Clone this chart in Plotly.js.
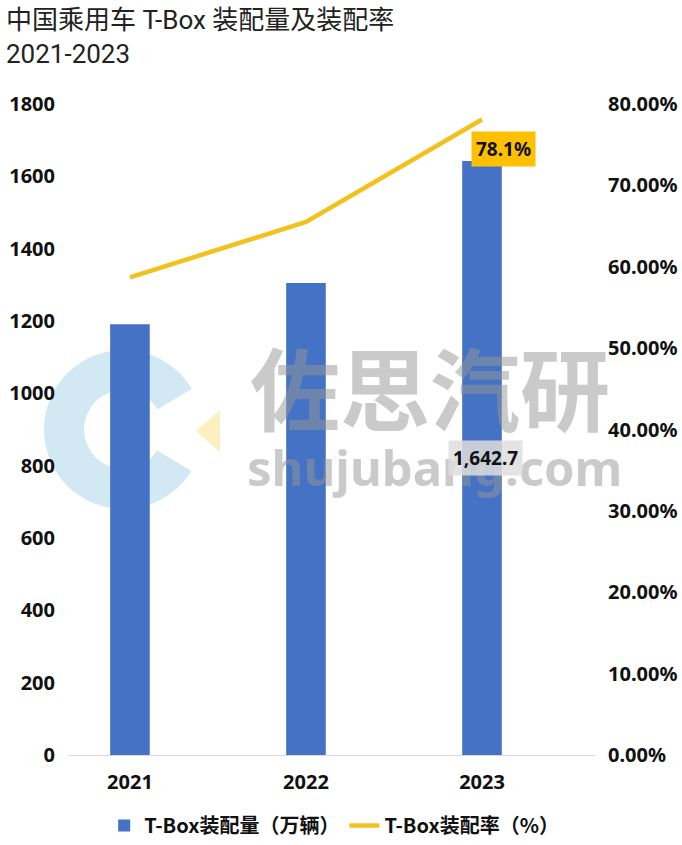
<!DOCTYPE html>
<html>
<head>
<meta charset="utf-8">
<script src="https://cdn.plot.ly/plotly-3.0.1.min.js"></script>
<style>
  html, body { margin: 0; padding: 0; background: #fff; }
  #chart { width: 682px; height: 845px; }
</style>
</head>
<body>
<div id="chart"></div>
<script>
// ---- data ----
const years = ['2021', '2022', '2023'];
const volume = [1191, 1305, 1642.7];      // T-Box装配量（万辆）
const rate = [58.7, 65.5, 78.1];          // T-Box装配率（%）
const leftTicks = [0, 200, 400, 600, 800, 1000, 1200, 1400, 1600, 1800];
const rightTicks = [0, 10, 20, 30, 40, 50, 60, 70, 80];
const rightTickText = rightTicks.map(v => v.toFixed(2) + '%');

const W = 682, H = 845;
const L = 68, R = 87, T = 104, B = 90;
const pw = W - L - R, ph = H - T - B;
// pixel -> paper helpers for decorative elements only
const px = v => (v - L) / pw;
const py = v => (H - B - v) / ph;

const tickFont = { family: 'Noto Sans, Open Sans, sans-serif', size: 20, color: '#111', weight: 'bold' };
const last = years.length - 1;

const traces = [
  {
    type: 'bar', name: 'T-Box装配量（万辆）', x: years, y: volume,
    marker: { color: '#4472C4' }, width: 0.225
  },
  {
    type: 'scatter', mode: 'lines', name: 'T-Box装配率（%）', x: years, y: rate, yaxis: 'y2',
    line: { color: '#F2C11C', width: 4.5 }
  }
];

const annotations = [
  // title
  {
    xref: 'paper', yref: 'paper', x: px(4), y: py(3), xanchor: 'left', yanchor: 'top', align: 'left',
    text: '中国乘用车 T-Box 装配量及装配率<br>2021-2023', showarrow: false,
    font: { family: 'Roboto, Noto Sans CJK SC, sans-serif', size: 26, color: '#222' }
  },
  // watermark
  {
    xref: 'paper', yref: 'paper', x: px(430), y: py(385), xanchor: 'center', yanchor: 'middle',
    text: '佐思汽研', showarrow: false,
    font: { family: 'Noto Sans CJK SC, sans-serif', size: 90, color: 'rgba(150,150,150,0.5)', weight: 'bold' }
  },
  {
    xref: 'paper', yref: 'paper', x: px(434), y: py(467), xanchor: 'center', yanchor: 'middle',
    text: 'shujubang.com', showarrow: false,
    font: { family: 'Noto Sans, sans-serif', size: 49, color: 'rgba(150,150,150,0.5)', weight: 'bold' }
  },
  // data labels
  {
    xref: 'x', yref: 'y2', x: last, y: rate[last], text: '<b>' + rate[last].toFixed(1) + '%</b>',
    xanchor: 'center', yanchor: 'middle',
    showarrow: false, xshift: 21, yshift: -30, bgcolor: '#FFC000', borderpad: 4,
    font: { family: 'Noto Sans, sans-serif', size: 19, color: '#111' }
  },
  {
    xref: 'x', yref: 'y', x: last, y: volume[last] / 2, xanchor: 'center', yanchor: 'middle',
    text: '<b>' + volume[last].toLocaleString('en-US', { minimumFractionDigits: 1 }) + '</b>',
    showarrow: false, xshift: 3, bgcolor: 'rgba(222,222,222,0.85)', borderpad: 4,
    font: { family: 'Noto Sans, sans-serif', size: 19, color: '#111' }
  }
];

const shapes = [
  { type: 'circle', layer: 'below', xref: 'paper', yref: 'paper', x0: px(44), x1: px(203), y0: py(509), y1: py(350),
    fillcolor: '#D2E9F3', line: { width: 0 } },
  { type: 'circle', layer: 'below', xref: 'paper', yref: 'paper', x0: px(84), x1: px(163), y0: py(469), y1: py(390),
    fillcolor: '#ffffff', line: { width: 0 } },
  { type: 'path', layer: 'below', xref: 'paper', yref: 'paper',
    path: `M ${px(123)} ${py(430)} L ${px(215)} ${py(375)} L ${px(215)} ${py(485)} Z`,
    fillcolor: '#ffffff', line: { width: 0 } },
  { type: 'path', layer: 'below', xref: 'paper', yref: 'paper',
    path: `M ${px(196)} ${py(431)} L ${px(220)} ${py(410)} L ${px(220)} ${py(452)} Z`,
    fillcolor: '#FCEFC0', line: { width: 0 } }
];

const layout = {
  width: W, height: H,
  margin: { l: L, r: R, t: T, b: B },
  paper_bgcolor: '#fff', plot_bgcolor: '#fff',
  font: { family: 'Noto Sans, sans-serif', color: '#111' },
  showlegend: true,
  legend: {
    orientation: 'h', xref: 'container', x: 0.49, xanchor: 'center', yref: 'container', y: 0.0, yanchor: 'bottom',
    font: { family: 'Noto Sans CJK SC, sans-serif', size: 20, color: '#111', weight: 'bold' },
    traceorder: 'normal'
  },
  xaxis: {
    type: 'category', range: [-0.352, 2.642], showgrid: false, zeroline: false,
    showline: true, linecolor: '#d9d9d9', linewidth: 1, ticks: '',
    tickfont: tickFont, ticklabelstandoff: 9
  },
  yaxis: {
    range: [0, 1800], tickvals: leftTicks, showgrid: false, zeroline: false, showline: false,
    tickfont: tickFont, ticklabelstandoff: 12
  },
  yaxis2: {
    overlaying: 'y', side: 'right', range: [0, 80], tickvals: rightTicks, ticktext: rightTickText,
    showgrid: false, zeroline: false, showline: false,
    tickfont: tickFont, ticklabelstandoff: 12
  },
  annotations: annotations,
  shapes: shapes
};

Plotly.newPlot('chart', traces, layout, { displayModeBar: false, staticPlot: true });
</script>
</body>
</html>
